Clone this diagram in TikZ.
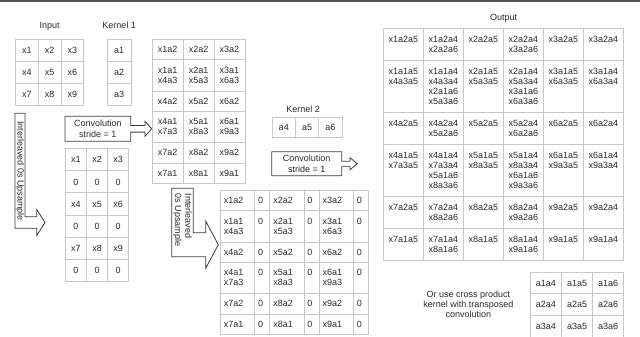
\documentclass[tikz,border=0pt]{standalone}
\usepackage{fontspec}
\setmainfont{Liberation Sans}
\usetikzlibrary{matrix, positioning}
\definecolor{inkgray}{HTML}{2A2A2A}
\definecolor{gridgray}{HTML}{C8C8C8}
\definecolor{edgegray}{HTML}{3C3C3C}
\definecolor{barline}{HTML}{555555}
\newcommand{\tabfont}{\fontsize{9}{10.2}\selectfont}

\begin{document}
\begin{tikzpicture}[
    x=1pt, y=1pt,
    every node/.style={font=\tabfont, text=inkgray},
    tbl/.style={matrix of nodes, anchor=north west, inner sep=0pt, outer sep=0pt, row sep=-0.8pt, column sep=-0.8pt},
    val/.style={draw=gridgray, line width=0.8pt, inner sep=0pt, text height=6.5pt, text depth=0pt},
    prod/.style={draw=gridgray, line width=0.8pt, align=left, inner ysep=5.8pt, text height=7.5pt, text depth=1.2pt},
    lbl/.style={inner sep=1pt, text height=7pt, text depth=2pt},
    blockarrow/.style={draw=edgegray, line width=0.8pt, line join=miter},
    calltext/.style={align=center, inner sep=0pt}
]
\useasboundingbox (0,0) rectangle (640,-337);
\fill[barline] (0,0) rectangle (640,-1.8);

% Input and first kernel
\matrix[tbl, nodes={val, minimum width=22.8pt, minimum height=21.9pt}] (input) at (15,-39.3) {
    x1 & x2 & x3 \\
    x4 & x5 & x6 \\
    x7 & x8 & x9 \\
};
\matrix[tbl, nodes={val, minimum width=24.3pt, minimum height=21.9pt}] (kernela) at (106.7,-39.3) {
    a1 \\
    a2 \\
    a3 \\
};
\node[lbl, above=8pt of input] (inputlbl) {Input};
\node[lbl, above=8pt of kernela] (kernelalbl) {Kernel 1};

% First convolution result
\matrix[tbl, nodes={prod, text width=19.9pt, inner xsep=5.5pt},
    row 2/.style={nodes={text depth=12.2pt}},
    row 4/.style={nodes={text depth=12.2pt}}] (convres) at (152,-39) {
    x1a2 & x2a2 & x3a2 \\
    {x1a1\\x4a3} & {x2a1\\x5a3} & {x3a1\\x6a3} \\
    x4a2 & x5a2 & x6a2 \\
    {x4a1\\x7a3} & {x5a1\\x8a3} & {x6a1\\x9a3} \\
    x7a2 & x8a2 & x9a2 \\
    x7a1 & x8a1 & x9a1 \\
};

% Upsampled input
\matrix[tbl, nodes={val, minimum width=21.1pt, minimum height=22.07pt}] (upsa) at (65,-148.3) {
    x1 & x2 & x3 \\
    0 & 0 & 0 \\
    x4 & x5 & x6 \\
    0 & 0 & 0 \\
    x7 & x8 & x9 \\
    0 & 0 & 0 \\
};

% Second kernel
\matrix[tbl, nodes={val, minimum width=23.3pt, minimum height=20pt}] (kernelb) at (271.7,-117.3) {
    a4 & a5 & a6 \\
};
\node[lbl, above=2pt of kernelb, xshift=-4pt] (kernelblbl) {Kernel 2};

% Upsampled first result
\matrix[tbl, nodes={prod, text width=27.1pt, inner xsep=3.5pt},
    column 2/.style={nodes={text width=8.3pt}},
    column 4/.style={nodes={text width=8.3pt}},
    column 6/.style={nodes={text width=8.3pt}},
    row 2/.style={nodes={text depth=12.2pt}},
    row 4/.style={nodes={text depth=12.2pt}}] (upsb) at (220,-190) {
    x1a2 & 0 & x2a2 & 0 & x3a2 & 0 \\
    {x1a1\\x4a3} & 0 & {x2a1\\x5a3} & 0 & {x3a1\\x6a3} & 0 \\
    x4a2 & 0 & x5a2 & 0 & x6a2 & 0 \\
    {x4a1\\x7a3} & 0 & {x5a1\\x8a3} & 0 & {x6a1\\x9a3} & 0 \\
    x7a2 & 0 & x8a2 & 0 & x9a2 & 0 \\
    x7a1 & 0 & x8a1 & 0 & x9a1 & 0 \\
};

% Output
\matrix[tbl, nodes={prod, text width=30pt, inner xsep=5pt, text depth=12.9pt},
    row 2/.style={nodes={text depth=32.9pt}},
    row 4/.style={nodes={text depth=32.9pt}}] (output) at (383.3,-28.3) {
    x1a2a5 & {x1a2a4\\x2a2a6} & x2a2a5 & {x2a2a4\\x3a2a6} & x3a2a5 & x3a2a4 \\
    {x1a1a5\\x4a3a5} & {x1a1a4\\x4a3a4\\x2a1a6\\x5a3a6} & {x2a1a5\\x5a3a5} & {x2a1a4\\x5a3a4\\x3a1a6\\x6a3a6} & {x3a1a5\\x6a3a5} & {x3a1a4\\x6a3a4} \\
    x4a2a5 & {x4a2a4\\x5a2a6} & x5a2a5 & {x5a2a4\\x6a2a6} & x6a2a5 & x6a2a4 \\
    {x4a1a5\\x7a3a5} & {x4a1a4\\x7a3a4\\x5a1a6\\x8a3a6} & {x5a1a5\\x8a3a5} & {x5a1a4\\x8a3a4\\x6a1a6\\x9a3a6} & {x6a1a5\\x9a3a5} & {x6a1a4\\x9a3a4} \\
    x7a2a5 & {x7a2a4\\x8a2a6} & x8a2a5 & {x8a2a4\\x9a2a6} & x9a2a5 & x9a2a4 \\
    x7a1a5 & {x7a1a4\\x8a1a6} & x8a1a5 & {x8a1a4\\x9a1a6} & x9a1a5 & x9a1a4 \\
};
\node[lbl, above=5pt of output] (outputlbl) {Output};

% Cross product kernel
\matrix[tbl, nodes={val, minimum width=31.1pt, minimum height=21.7pt}] (crossk) at (530,-271.7) {
    a1a4 & a1a5 & a1a6 \\
    a2a4 & a2a5 & a2a6 \\
    a3a4 & a3a5 & a3a6 \\
};
\node[align=center] (crossnote) at (468.3,-304.2) {Or use cross product\\kernel with transposed\\convolution};

% Block arrows
\node[calltext] (convone) at (97.85,-128.8) {Convolution\\stride = 1};
\draw[blockarrow, shift={(convone.center)}] (-32.85,12.5) -- (32.85,12.5) -- (32.85,3.3) -- (47.15,3.3) -- (47.15,7.5) -- (53.85,0) -- (47.15,-7.5) -- (47.15,-3.3) -- (32.85,-3.3) -- (32.85,-12.5) -- (-32.85,-12.5) -- cycle;

\node[calltext] (convtwo) at (306.7,-163.7) {Convolution\\stride = 1};
\draw[blockarrow, shift={(convtwo.center)}] (-35,12) -- (35,12) -- (35,2.5) -- (43.3,2.5) -- (43.3,6) -- (50.6,0) -- (43.3,-6) -- (43.3,-2.5) -- (35,-2.5) -- (35,-12) -- (-35,-12) -- cycle;

\node[calltext, rotate=-90] (upsone) at (20,-170.8) {Interleaved 0s Upsample};
\draw[blockarrow, shift={(upsone.center)}] (-5,57.5) -- (5,57.5) -- (5,-45.9) -- (16.7,-45.9) -- (16.7,-38.7) -- (25,-51.7) -- (16.7,-64.7) -- (16.7,-57.5) -- (-5,-57.5) -- cycle;

\node[calltext, align=left, rotate=-90] (upstwo) at (182.5,-220) {Interleaved\\0s Upsample};
\draw[blockarrow, shift={(182.5,-222.5)}] (-10.8,34.2) -- (10.8,34.2) -- (10.8,-10.2) -- (23.2,-10.2) -- (23.2,1.4) -- (35.8,-22.2) -- (23.2,-45.8) -- (23.2,-34.2) -- (-10.8,-34.2) -- cycle;

\end{tikzpicture}
\end{document}
